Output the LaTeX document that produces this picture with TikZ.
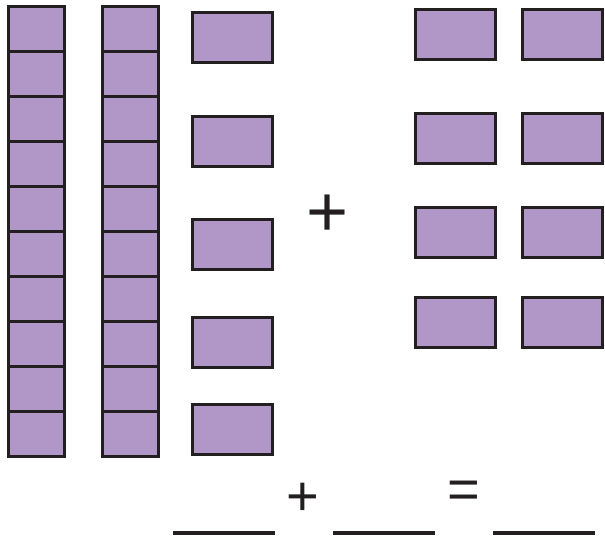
\documentclass[tikz,border=0pt]{standalone}
\usepackage{fontspec}
\setmainfont{Liberation Sans}
\definecolor{tile}{HTML}{B197C8}
\definecolor{ink}{HTML}{231F20}
\begin{document}
\begin{tikzpicture}[x=1pt,y=-1pt,
  tilebox/.style={draw=ink,fill=tile,line width=3pt},
  blank/.style={draw=ink,line width=3.2pt},
  sym/.style={inner sep=0pt,text=ink}]
\useasboundingbox (0,0) rectangle (605,540);
% tens rods
\foreach \i in {0,...,9}{
  \draw[tilebox] (8,{7+44.9*\i}) rectangle (64,{7+44.9*(\i+1)});
  \draw[tilebox] (102,{7+44.9*\i}) rectangle (158,{7+44.9*(\i+1)});
}
% ones column
\foreach \y [count=\k] in {11,115,218,316,403}{
  \node[tilebox,minimum width=80pt,minimum height=50pt,inner sep=0pt,anchor=north west] (u\k) at (191,\y) {};
}
% right ones
\foreach \y [count=\k] in {8,112,206,296}{
  \node[tilebox,minimum width=80pt,minimum height=50pt,inner sep=0pt,anchor=north west] (a\k) at (414,\y) {};
  \node[tilebox,minimum width=80pt,minimum height=50pt,inner sep=0pt,anchor=north west] (b\k) at (521,\y) {};
}
% plus sign
\node[sym,font=\fontsize{72}{72}\selectfont] (plus1) at (328,216) {+};
% equation
\coordinate (l1a) at (173,533); \coordinate (l1b) at (275,533);
\coordinate (l2a) at (333,533); \coordinate (l2b) at (435,533);
\coordinate (l3a) at (493,533); \coordinate (l3b) at (595,533);
\draw[blank] (l1a) -- (l1b);
\draw[blank] (l2a) -- (l2b);
\draw[blank] (l3a) -- (l3b);
\node[sym,font=\fontsize{56}{56}\selectfont] (plus2) at (303,499) {+};
\node[sym,font=\fontsize{56}{56}\selectfont] (eq) at (464,495) {=};
\end{tikzpicture}
\end{document}
